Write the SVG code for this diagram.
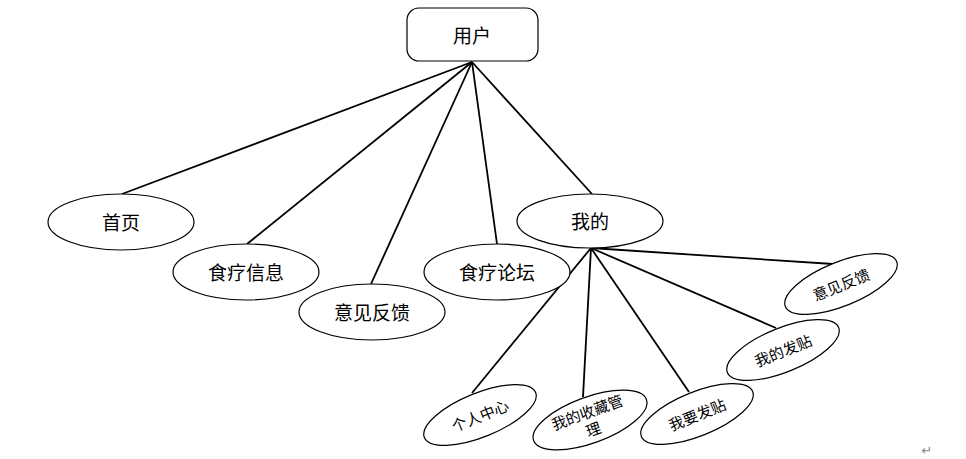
<svg xmlns="http://www.w3.org/2000/svg" width="966" height="459" viewBox="0 0 966 459">
<style>
.n{fill:#fff;stroke:#000;stroke-width:1.2}
.t{font-family:"Noto Sans CJK SC","Noto Sans",sans-serif;font-size:19px;fill:#000;text-anchor:middle;dominant-baseline:central}
.s{font-size:15px}
.c line{stroke:#000;stroke-width:1.8}
</style>
<rect width="966" height="459" fill="#fff"/>
<g class="c" id="connectors">
<line x1="472" y1="62" x2="122" y2="194"/>
<line x1="472" y1="62" x2="247" y2="244"/>
<line x1="472" y1="62" x2="371" y2="284"/>
<line x1="472" y1="62" x2="497" y2="244"/>
<line x1="472" y1="62" x2="592" y2="194"/>
<line x1="591" y1="248" x2="472" y2="393"/>
<line x1="591" y1="248" x2="583" y2="397"/>
<line x1="591" y1="248" x2="689" y2="392"/>
<line x1="591" y1="248" x2="776" y2="328"/>
<line x1="591" y1="248" x2="833" y2="264"/>
</g>
<g id="yonghu"><rect class="n" x="407" y="8" width="131" height="53" rx="12"/><text class="t" x="472" y="34">用户</text></g>
<g id="shouye"><ellipse class="n" cx="121" cy="222" rx="73" ry="28"/><text class="t" x="121" y="221">首页</text></g>
<g id="shiliaoxinxi"><ellipse class="n" cx="246" cy="272" rx="73" ry="28"/><text class="t" x="246" y="271">食疗信息</text></g>
<g id="yijianfankui1"><ellipse class="n" cx="372" cy="312" rx="73" ry="28"/><text class="t" x="372" y="311">意见反馈</text></g>
<g id="shiliaoluntan"><ellipse class="n" cx="497" cy="272" rx="73" ry="28"/><text class="t" x="497" y="271">食疗论坛</text></g>
<g id="wode"><ellipse class="n" cx="590" cy="221" rx="73" ry="27"/><text class="t" x="590" y="220">我的</text></g>
<g id="gerenzhongxin" transform="rotate(-22 480 415)"><ellipse class="n" cx="480" cy="415" rx="60" ry="22"/><text class="t s" x="480" y="415">个人中心</text></g>
<g id="shoucang" transform="rotate(-20 590 420)"><ellipse class="n" cx="590" cy="420" rx="60" ry="23"/><text class="t s" x="590" y="411">我的收藏管</text><text class="t s" x="590" y="429">理</text></g>
<g id="woyaofatie" transform="rotate(-22 697 414)"><ellipse class="n" cx="697" cy="414" rx="60" ry="22"/><text class="t s" x="697" y="414">我要发贴</text></g>
<g id="wodefatie" transform="rotate(-22 783 350)"><ellipse class="n" cx="783" cy="350" rx="60" ry="22"/><text class="t s" x="783" y="350">我的发贴</text></g>
<g id="yijianfankui2" transform="rotate(-22 841 284)"><ellipse class="n" cx="841" cy="284" rx="60" ry="22"/><text class="t s" x="841" y="284">意见反馈</text></g>
<text x="927" y="450" font-family="DejaVu Sans,sans-serif" font-size="13" fill="#888" text-anchor="middle" dominant-baseline="central">↵</text>
</svg>
